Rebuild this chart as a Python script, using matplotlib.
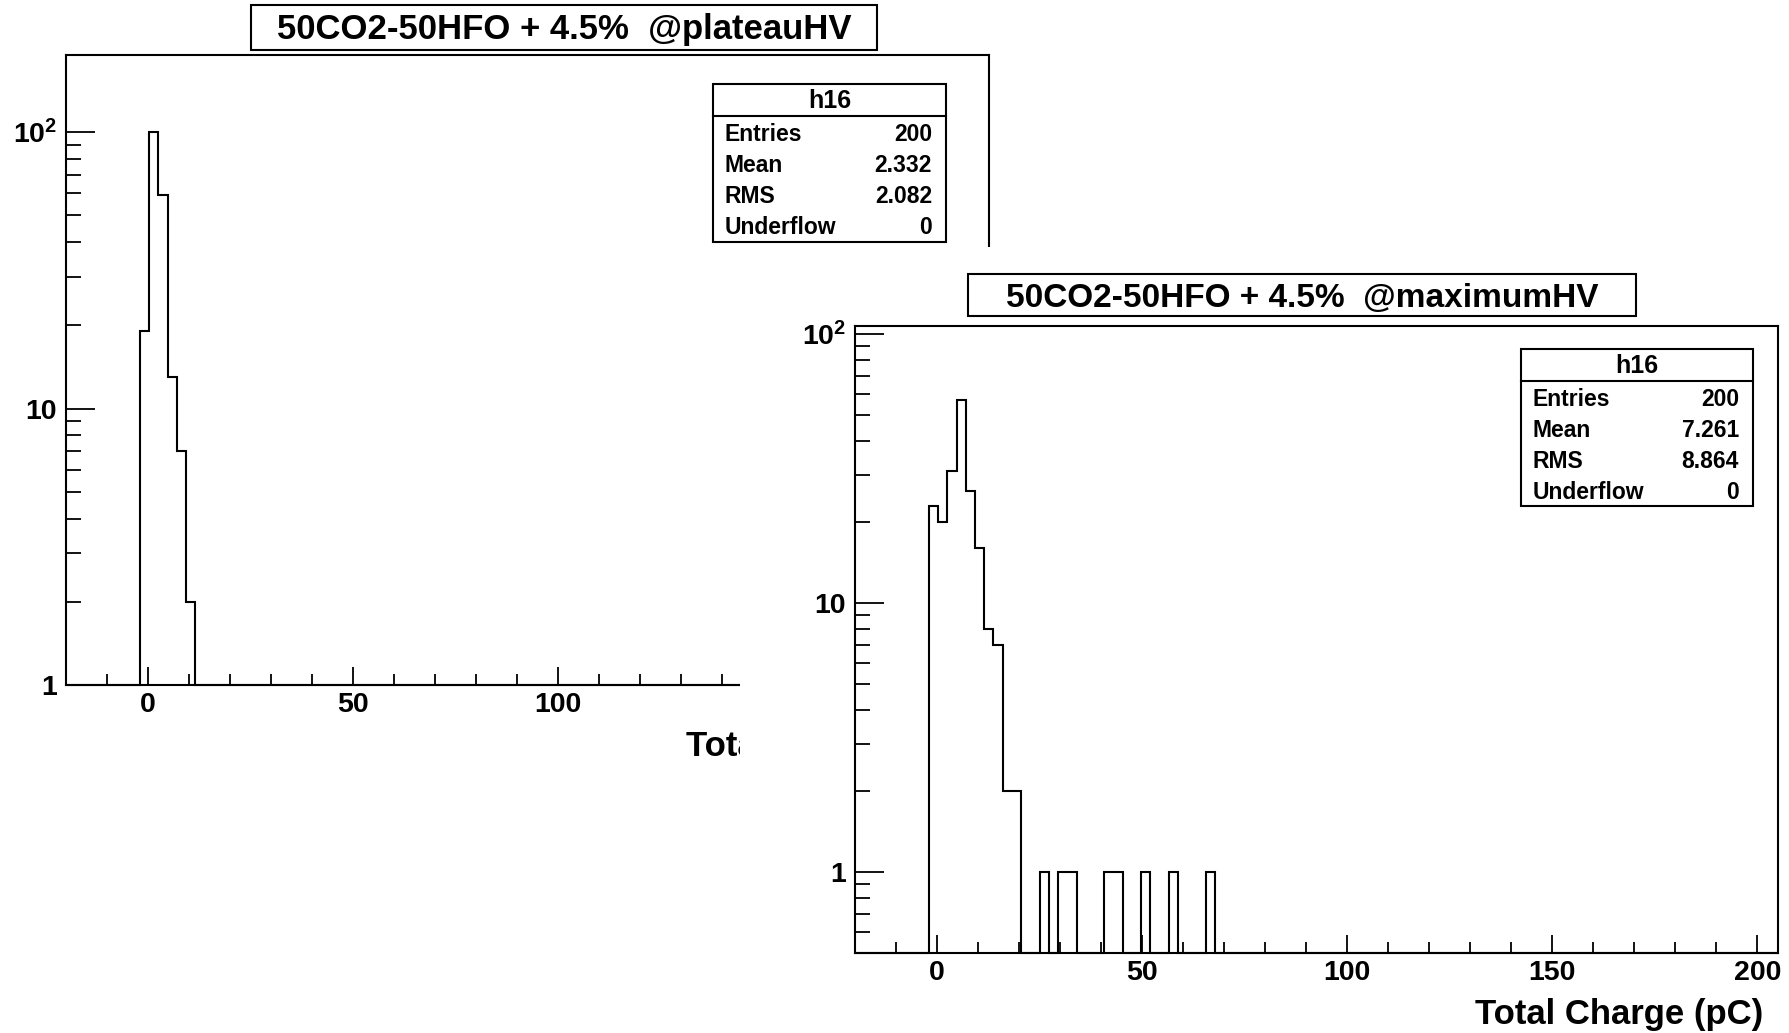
import matplotlib

matplotlib.use('Agg')
import matplotlib.pyplot as plt
import numpy as np
from matplotlib.patches import Rectangle
from matplotlib.ticker import FixedLocator, FixedFormatter, LogLocator, NullFormatter, MultipleLocator

plt.rcParams['font.family'] = ['Liberation Sans', 'DejaVu Sans']
plt.rcParams['font.weight'] = 'bold'
plt.rcParams['mathtext.fontset'] = 'custom'
plt.rcParams['mathtext.rm'] = 'Liberation Sans:bold'
plt.rcParams['mathtext.it'] = 'Liberation Sans:bold'
plt.rcParams['mathtext.bf'] = 'Liberation Sans:bold'

# histogram binning (100 bins from -20 to 205 pC)
x_lo, x_hi, n_bins = -20, 205, 100
first_bin = 8  # first filled bin (starts at -2 pC)

# counts per bin, from the first filled bin onwards
plateau_counts = [19, 100, 59, 13, 7, 2]
maximum_counts = [23, 20, 31, 57, 26, 16, 8, 7, 2, 2, 0, 0, 1, 0, 1, 1, 0, 0, 0, 1,
                  1, 0, 0, 1, 0, 0, 1, 0, 0, 0, 1]

titles = ['50CO2-50HFO + 4.5%  @plateauHV', '50CO2-50HFO + 4.5%  @maximumHV']
stat_names = ['Entries', 'Mean', 'RMS', 'Underflow']
plateau_stats = ['200', '2.332', '2.082', '0']
maximum_stats = ['200', '7.261', '8.864', '0']
x_label = 'Total Charge (pC)'
y_tick_vals = [1, 10, 100]
y_tick_labels = ['1', '10', r'$\mathrm{10^{2}}$']

W, H = 1789, 1033
fig = plt.figure(figsize=(W / 100, H / 100), dpi=100)
fig.patch.set_facecolor('white')


def fx(x):
    return x / W


def fy(y):
    return 1 - y / H


def full_counts(counts):
    c = np.zeros(n_bins)
    c[first_bin:first_bin + len(counts)] = counts
    return c


def setup_axes(ax, ymin, ymax):
    ax.set_yscale('log')
    ax.set_xlim(x_lo, x_hi)
    ax.set_ylim(ymin, ymax)
    ax.xaxis.set_major_locator(FixedLocator([0, 50, 100, 150, 200]))
    ax.xaxis.set_minor_locator(MultipleLocator(10))
    ax.yaxis.set_major_locator(FixedLocator(y_tick_vals))
    ax.yaxis.set_major_formatter(FixedFormatter(y_tick_labels))
    ax.yaxis.set_minor_locator(LogLocator(base=10, subs=np.arange(2, 10), numticks=30))
    ax.yaxis.set_minor_formatter(NullFormatter())
    ax.tick_params(axis='x', which='major', direction='in', length=13, width=1.3,
                   pad=5, labelsize=20.5)
    ax.tick_params(axis='x', which='minor', direction='in', length=8, width=1.3)
    ax.tick_params(axis='y', which='major', direction='in', length=21, width=1.3,
                   pad=6.5, labelsize=20.5)
    ax.tick_params(axis='y', which='minor', direction='in', length=11, width=1.3)
    for s in ax.spines.values():
        s.set_linewidth(1.5)


def draw_hist(ax, counts, ymin):
    edges = np.linspace(x_lo, x_hi, n_bins + 1)
    c = full_counts(counts)
    ax.stairs(np.where(c > 0, c, ymin), edges, baseline=ymin, color='black',
              lw=1.5, clip_on=False)


def title_box(ax, x0, y0, x1, y1, text, size):
    r = Rectangle((fx(x0), fy(y1)), (x1 - x0) / W, (y1 - y0) / H, transform=fig.transFigure,
                  fc='white', ec='black', lw=1.5, clip_on=False, zorder=5)
    ax.add_artist(r)
    ax.text(fx((x0 + x1) / 2), fy((y0 + y1) / 2 + 12), text, transform=fig.transFigure,
            ha='center', va='baseline', fontsize=size, fontweight='bold', zorder=6,
            clip_on=False)


def stats_box(ax, x0, y0, x1, y1, values):
    r = Rectangle((fx(x0), fy(y1)), (x1 - x0) / W, (y1 - y0) / H, transform=fig.transFigure,
                  fc='white', ec='black', lw=1.5, clip_on=False, zorder=5)
    ax.add_artist(r)
    ax.plot([fx(x0), fx(x1)], [fy(y0 + 32), fy(y0 + 32)], transform=fig.transFigure,
            color='black', lw=1.5, clip_on=False, zorder=6)
    ax.text(fx((x0 + x1) / 2), fy(y0 + 24), 'h16', transform=fig.transFigure,
            ha='center', va='baseline', fontsize=18, zorder=6)
    for i, (name, val) in enumerate(zip(stat_names, values)):
        yb = y0 + 57 + i * 31
        ax.text(fx(x0 + 12), fy(yb), name, transform=fig.transFigure,
                ha='left', va='baseline', fontsize=16.5, zorder=6)
        ax.text(fx(x1 - 14), fy(yb), val, transform=fig.transFigure,
                ha='right', va='baseline', fontsize=16.5, zorder=6)


# left pad: plateau HV
ax1 = fig.add_axes([fx(66), fy(685), (989 - 66) / W, (685 - 55) / H])
ax1.set_zorder(0)
draw_hist(ax1, plateau_counts, 1)
setup_axes(ax1, 1, 190)
title_box(ax1, 251, 5, 877, 50, titles[0], 25)
stats_box(ax1, 713, 84, 946, 242, plateau_stats)
ax1.text(fx(974), fy(756), x_label, transform=fig.transFigure, ha='right',
         va='baseline', fontsize=25, clip_on=False)

# second pad drawn over the first one
cover = Rectangle((fx(740), 0), 1 - fx(740), fy(247), transform=fig.transFigure,
                  fc='white', ec='none', zorder=1)
fig.add_artist(cover)

# right pad: maximum HV
ax2 = fig.add_axes([fx(855), fy(953), (1778 - 855) / W, (953 - 326) / H])
ax2.set_zorder(2)
draw_hist(ax2, maximum_counts, 0.5)
setup_axes(ax2, 0.5, 107)
title_box(ax2, 968, 274, 1636, 316, titles[1], 24)
stats_box(ax2, 1521, 349, 1753, 506, maximum_stats)
ax2.text(fx(1763), fy(1024), x_label, transform=fig.transFigure, ha='right',
         va='baseline', fontsize=25, clip_on=False)

fig.savefig('out.png', dpi=100)
plt.close(fig)
